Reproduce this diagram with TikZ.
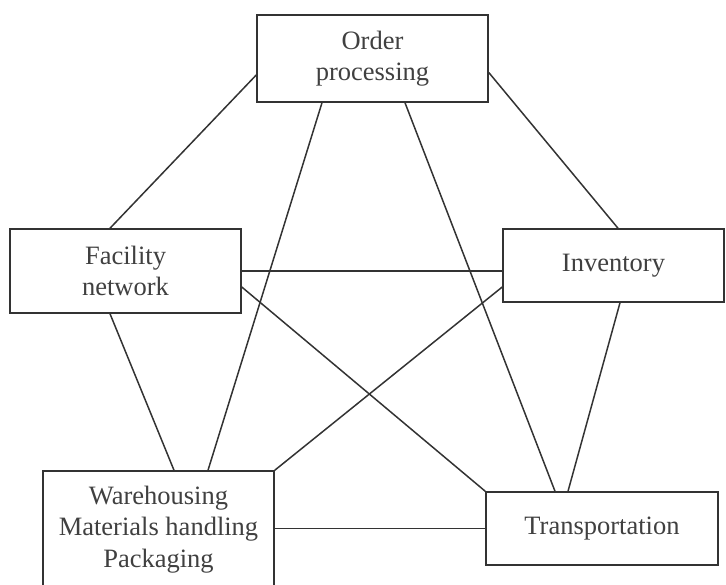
\documentclass[tikz,border=0pt]{standalone}
\usepackage{fontspec}
\setmainfont{Liberation Serif}
\usetikzlibrary{positioning}

\begin{document}
\begin{tikzpicture}[x=1pt,y=-1pt]
    \tikzset{block/.style={
      draw=black!80,
      line width=1.5pt,
      rectangle,
      align=center,
      inner sep=0pt,
      text=black!75,
      font=\fontsize{26.5}{31.5}\selectfont
    }};
    \tikzset{link/.style={draw=black!80,line width=1.5pt}};

    \useasboundingbox (0,0) rectangle (726,585);

    \node [block, minimum width=231pt, minimum height=87pt] (order) at (372.5,58.5) {Order\\processing};
    \node [block, minimum width=231pt, minimum height=84pt] (facility) at (125.5,271) {Facility\\network};
    \node [block, minimum width=221pt, minimum height=73pt] (inventory) at (613.5,265.5) {Inventory};
    \node [block, minimum width=231pt, minimum height=117pt] (warehousing) at (158.5,529.5) {Warehousing\\Materials handling\\Packaging};
    \node [block, minimum width=232pt, minimum height=73pt] (transport) at (602,528.5) {Transportation};

    \path[link] ([yshift=-16.5pt]order.west) edge ([xshift=-15.5pt]facility.north)
      ([yshift=-14pt]order.east) edge ([xshift=4.5pt]inventory.north)
      ([xshift=-50.5pt]order.south) edge ([xshift=49.5pt]warehousing.north)
      ([xshift=32.5pt]order.south) edge ([xshift=-47pt]transport.north);

    \path[link] (facility.east) edge (facility.east -| inventory.west)
      ([yshift=-16pt]facility.east) edge (transport.north west)
      ([xshift=-15.5pt]facility.south) edge ([xshift=15.5pt]warehousing.north);

    \path[link] ([yshift=-21.5pt]inventory.west) edge (warehousing.north east)
      ([xshift=6.5pt]inventory.south) edge ([xshift=-34pt]transport.north)
      (warehousing.east |- transport.west) edge (transport.west);
  \end{tikzpicture}
\end{document}
